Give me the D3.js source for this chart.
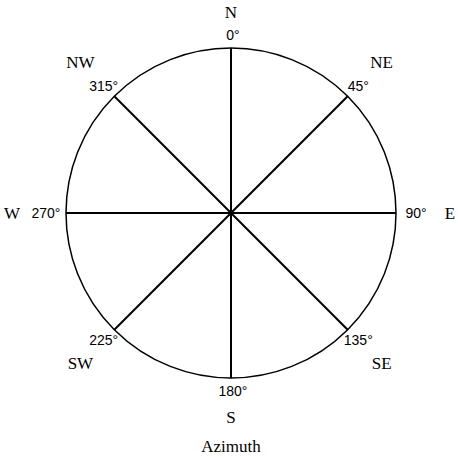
<!DOCTYPE html>
<html><head><meta charset="utf-8">
<script src="https://cdn.jsdelivr.net/npm/d3@7"></script>
<style>body{margin:0;background:#fff}</style></head>
<body><svg id="c" width="458" height="459"></svg>
<script>
const angles=[0,45,90,135,180,225,270,315];
const directions=["N","NE","E","SE","S","SW","W","NW"];
const degreeLabels=["0°","45°","90°","135°","180°","225°","270°","315°"];
const title="Azimuth";

const svg=d3.select("#c");
const cx=231,cy=213,R=165;
const rad=d3.scaleLinear().domain([0,360]).range([0,2*Math.PI]);
const pt=(a,r)=>[cx+r*Math.sin(rad(a)),cy-r*Math.cos(rad(a))];
svg.append("circle").attr("cx",cx).attr("cy",cy).attr("r",R).attr("fill","none").attr("stroke","#000").attr("stroke-width",1.5);
svg.selectAll("line.s").data(angles).join("line")
 .attr("x1",cx).attr("y1",cy)
 .attr("x2",d=>pt(d,R)[0]).attr("y2",d=>pt(d,R)[1])
 .attr("stroke","#000").attr("stroke-width",2);
const degR=a=>(a%90===0)?(a===0||a===180?178:185):180;
svg.selectAll("text.d").data(angles).join("text")
 .attr("x",d=>pt(d,degR(d))[0]+(d===0||d===180?2:0)).attr("y",d=>pt(d,degR(d))[1])
 .attr("text-anchor","middle").attr("dominant-baseline","central")
 .attr("font-family","Liberation Sans, Arial").attr("font-size",14)
 .text((d,i)=>degreeLabels[i]);
const dirR=a=>a===0?201:a===180?204:a%90===0?219:213;
svg.selectAll("text.l").data(angles).join("text")
 .attr("x",d=>pt(d,dirR(d))[0]).attr("y",d=>pt(d,dirR(d))[1])
 .attr("text-anchor","middle").attr("dominant-baseline","central")
 .attr("font-family","Liberation Serif, Times New Roman").attr("font-size",17)
 .text((d,i)=>directions[i]);
svg.append("text").attr("x",cx).attr("y",452).attr("text-anchor","middle")
 .attr("font-family","Liberation Serif, Times New Roman").attr("font-size",17).text(title);
</script></body></html>
